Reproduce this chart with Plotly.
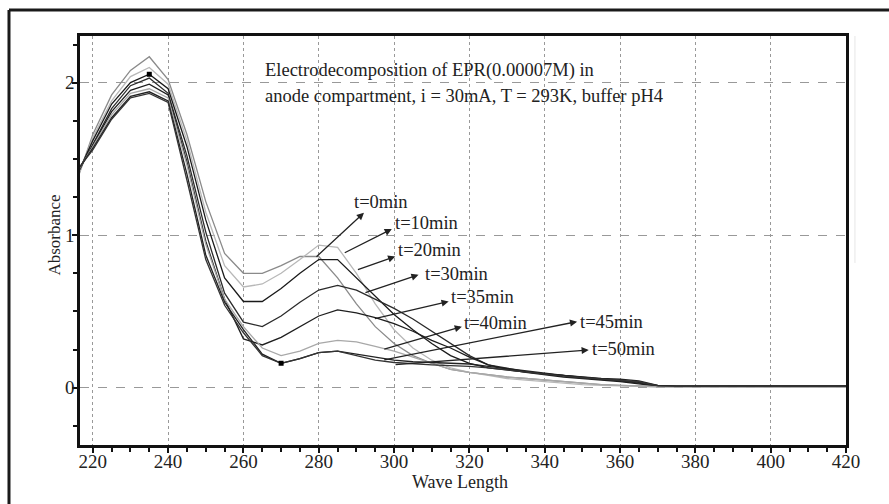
import plotly.graph_objects as go

wavelength = [215, 220, 225, 230, 235, 240, 245, 250, 255, 260, 265, 270, 275, 280, 285,
              290, 295, 300, 305, 310, 315, 320, 325, 330, 335, 340, 345, 350, 355, 360,
              365, 370, 375, 380, 385, 390, 395, 400, 405, 410, 415, 420]

tail_low = [0.01] * 9  # 380..420

t0 = [1.30, 1.66, 1.92, 2.08, 2.17, 2.02, 1.66, 1.22, 0.88, 0.75, 0.75, 0.80, 0.86, 0.86, 0.72,
      0.55, 0.40, 0.29, 0.21, 0.16, 0.12, 0.10, 0.085, 0.07, 0.06, 0.05, 0.04, 0.03, 0.02, 0.015,
      0.01, 0.008, 0.007] + [0.005] * 9
t10 = [1.32, 1.64, 1.88, 2.04, 2.10, 1.99, 1.62, 1.15, 0.80, 0.66, 0.68, 0.75, 0.84, 0.935, 0.92,
       0.75, 0.55, 0.38, 0.26, 0.18, 0.13, 0.10, 0.08, 0.06, 0.05, 0.04, 0.03, 0.02, 0.015, 0.01,
       0.008, 0.006, 0.005] + [0.004] * 9
t20 = [1.35, 1.62, 1.86, 2.00, 2.055, 1.96, 1.58, 1.10, 0.72, 0.565, 0.565, 0.65, 0.75, 0.84, 0.84,
       0.72, 0.60, 0.48, 0.38, 0.29, 0.21, 0.16, 0.13, 0.115, 0.10, 0.09, 0.08, 0.07, 0.06, 0.05,
       0.035, 0.015, 0.01] + tail_low
t30 = [1.36, 1.60, 1.83, 1.98, 2.03, 1.93, 1.52, 1.02, 0.62, 0.43, 0.40, 0.47, 0.56, 0.64, 0.67,
       0.64, 0.58, 0.52, 0.45, 0.37, 0.29, 0.21, 0.15, 0.125, 0.105, 0.09, 0.08, 0.065, 0.055, 0.045,
       0.03, 0.012, 0.008] + tail_low
t35 = [1.37, 1.59, 1.81, 1.95, 1.99, 1.92, 1.48, 0.96, 0.58, 0.32, 0.28, 0.33, 0.40, 0.47, 0.51,
       0.49, 0.46, 0.42, 0.37, 0.31, 0.26, 0.20, 0.15, 0.12, 0.10, 0.085, 0.07, 0.06, 0.05, 0.04,
       0.025, 0.01, 0.008] + tail_low
t40 = [1.38, 1.58, 1.79, 1.93, 1.96, 1.90, 1.46, 0.94, 0.58, 0.40, 0.26, 0.21, 0.24, 0.29, 0.31,
       0.30, 0.27, 0.24, 0.20, 0.16, 0.12, 0.10, 0.085, 0.07, 0.06, 0.05, 0.04, 0.03, 0.02, 0.015,
       0.01, 0.006, 0.005] + [0.004] * 9
t45 = [1.39, 1.57, 1.77, 1.91, 1.94, 1.88, 1.40, 0.87, 0.56, 0.38, 0.22, 0.16, 0.19, 0.23, 0.24,
       0.22, 0.20, 0.18, 0.17, 0.165, 0.16, 0.155, 0.14, 0.125, 0.11, 0.095, 0.08, 0.07, 0.06, 0.055,
       0.045, 0.015, 0.01] + tail_low
t50 = [1.40, 1.56, 1.76, 1.90, 1.93, 1.87, 1.36, 0.84, 0.54, 0.36, 0.21, 0.16, 0.19, 0.23, 0.24,
       0.21, 0.18, 0.165, 0.155, 0.15, 0.145, 0.14, 0.13, 0.115, 0.10, 0.09, 0.075, 0.065, 0.055, 0.05,
       0.04, 0.012, 0.01] + tail_low

series = [
    ("t=0min", t0, "#8a8a8a"),
    ("t=10min", t10, "#b8b8b8"),
    ("t=20min", t20, "#1a1a1a"),
    ("t=30min", t30, "#2a2a2a"),
    ("t=35min", t35, "#1e1e1e"),
    ("t=40min", t40, "#a8a8a8"),
    ("t=45min", t45, "#222222"),
    ("t=50min", t50, "#333333"),
]

# arrow tail (on curve) and head (at label), in data units
labels = ["t=0min", "t=10min", "t=20min", "t=30min", "t=35min", "t=40min", "t=45min", "t=50min"]
arrow_tail = [(279, 0.85), (286.5, 0.88), (290, 0.77), (292, 0.62), (294.5, 0.45),
              (297, 0.25), (297, 0.18), (300, 0.15)]
arrow_head = [(292, 1.147), (299.4, 1.04), (300.3, 0.86), (306.5, 0.74), (314.5, 0.565),
              (318, 0.40), (348.6, 0.433), (351.7, 0.247)]
label_pos = [(288.9, 1.22), (299.6, 1.078), (300.6, 0.903), (307.7, 0.746), (314.7, 0.595),
             (318.1, 0.426), (348.9, 0.433), (351.9, 0.252)]

FONT = "Liberation Serif, Times New Roman, serif"
TXT = 18.5

fig = go.Figure()
for name, ys, col in series:
    fig.add_trace(go.Scatter(x=wavelength, y=ys, mode="lines", name=name,
                             line=dict(color=col, width=1.3), showlegend=False))

# small square markers seen on two curves
i235 = wavelength.index(235)
i270 = wavelength.index(270)
fig.add_trace(go.Scatter(x=[wavelength[i235], wavelength[i270]], y=[t20[i235], t50[i270]],
                         mode="markers", marker=dict(symbol="square", size=5, color="black"),
                         showlegend=False))

annotations = []
for lab, (tx, ty), (hx, hy), (lx, ly) in zip(labels, arrow_tail, arrow_head, label_pos):
    annotations.append(dict(x=hx, y=hy, ax=tx, ay=ty, xref="x", yref="y", axref="x", ayref="y",
                            text="", showarrow=True, arrowhead=2, arrowsize=1.1, arrowwidth=1.3,
                            arrowcolor="#222"))
    annotations.append(dict(x=lx, y=ly, xref="x", yref="y", text=lab, showarrow=False,
                            xanchor="left", yanchor="middle",
                            font=dict(family=FONT, size=TXT, color="#222")))

annotations.append(dict(x=265.2, y=2.083, xref="x", yref="y", xanchor="left", yanchor="middle",
                        text="Electrodecomposition of EPR(0.00007M) in", showarrow=False,
                        font=dict(family=FONT, size=TXT, color="#222")))
annotations.append(dict(x=265.2, y=1.913, xref="x", yref="y", xanchor="left", yanchor="middle",
                        text="anode compartment, i = 30mA, T = 293K, buffer pH4", showarrow=False,
                        font=dict(family=FONT, size=TXT, color="#222")))
annotations.append(dict(x=-0.0335, y=0.513, xref="paper", yref="paper", text="Absorbance",
                        textangle=-90, showarrow=False, xanchor="center", yanchor="middle",
                        font=dict(family=FONT, size=17, color="#222")))
annotations.append(dict(x=0.496, y=-0.09, xref="paper", yref="paper", text="Wave Length",
                        showarrow=False, xanchor="center", yanchor="middle",
                        font=dict(family=FONT, size=18, color="#222")))

shapes = [
    # outer frame (top and left edges visible)
    dict(type="line", xref="paper", yref="paper", x0=-0.0927, x1=1.06, y0=1.0636, y1=1.0636,
         line=dict(color="#1a1a1a", width=3)),
    dict(type="line", xref="paper", yref="paper", x0=-0.0927, x1=-0.0927, y0=-0.15, y1=1.0636,
         line=dict(color="#1a1a1a", width=3)),
    # faint vertical line at right
    dict(type="line", xref="paper", yref="paper", x0=1.0117, x1=1.0117, y0=0.445, y1=1.0,
         line=dict(color="#e6e6e6", width=1)),
]

fig.update_layout(
    width=889, height=504,
    margin=dict(l=80, r=43, t=36, b=59),
    paper_bgcolor="white", plot_bgcolor="white",
    font=dict(family=FONT, size=18, color="#222"),
    annotations=annotations, shapes=shapes,
)
fig.update_xaxes(range=[216.6, 420], tickvals=[220, 240, 260, 280, 300, 320, 340, 360, 380, 400, 420],
                 ticks="outside", ticklen=5, tickwidth=1.5, tickcolor="#111", ticklabelstandoff=-8,
                 minor=dict(dtick=5, ticks="outside", ticklen=4, tickcolor="#111", showgrid=False),
                 showgrid=True, gridcolor="#999", griddash="dot", gridwidth=1,
                 showline=True, linecolor="#111", linewidth=2.5, mirror=True,
                 zeroline=False, tickfont=dict(family=FONT, size=19, color="#222"))
fig.update_yaxes(range=[-0.376, 2.306], tickvals=[0, 1, 2],
                 ticks="outside", ticklen=5, tickwidth=1.5, tickcolor="#111", ticklabelstandoff=-6,
                 minor=dict(dtick=0.25, ticks="outside", ticklen=4, tickcolor="#111", showgrid=False),
                 showgrid=True, gridcolor="#999", griddash="dash", gridwidth=1,
                 showline=True, linecolor="#111", linewidth=2.5, mirror=True,
                 zeroline=False, tickfont=dict(family=FONT, size=19, color="#222"))

fig.write_html("out.html")
